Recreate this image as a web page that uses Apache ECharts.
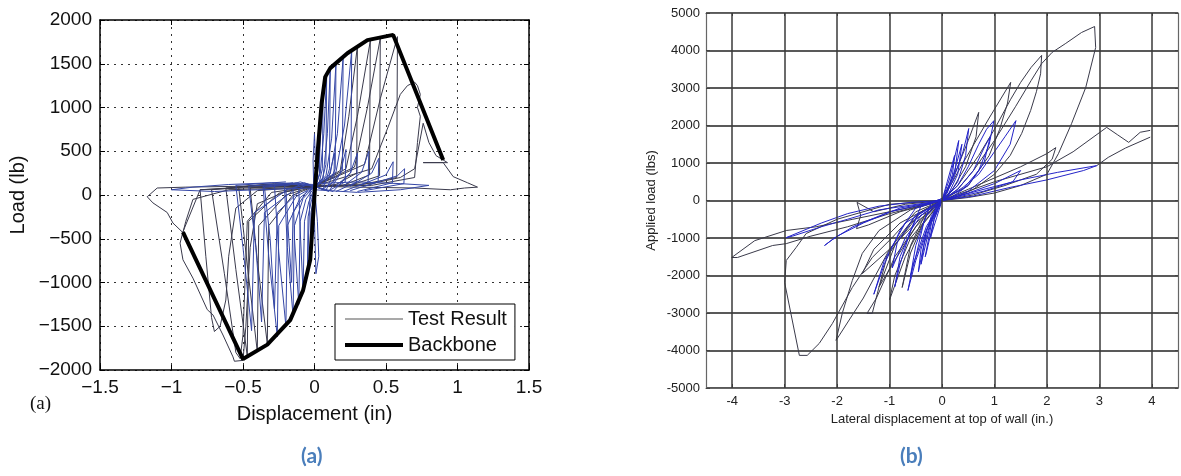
<!DOCTYPE html>
<html><head><meta charset="utf-8">
<script src="https://cdn.jsdelivr.net/npm/echarts@6/dist/echarts.min.js"></script>
<style>html,body{margin:0;padding:0;background:#fff}#c{width:1181px;height:476px}</style>
</head><body><div id="c"></div>
<script>
// ---------- Panel (a) ----------
const aXTicks = [-1.5, -1, -0.5, 0, 0.5, 1, 1.5];
const aYTicks = [-2000, -1500, -1000, -500, 0, 500, 1000, 1500, 2000];
const aBackbone = [[-0.92,-425],[-0.5,-1875],[-0.33,-1710],[-0.17,-1430],[-0.08,-1090],[-0.03,-740],[-0.01,-250],[0,0],[0.025,550],[0.05,1050],[0.075,1350],[0.11,1450],[0.23,1620],[0.37,1770],[0.55,1830],[0.9,400]];
const aLoopsBlue = [
 [[0,0],[0.01,250],[0.02,450],[0.015,150],[0,60],[-0.01,-200],[-0.02,-500],[-0.015,-150],[0,0]],
 [[0,0],[0.02,300],[0.04,850],[0.035,250],[0.01,100],[-0.01,0],[-0.02,-350],[-0.03,-800],[-0.025,-200],[0,0]],
 [[0,50],[0.03,350],[0.06,1150],[0.055,300],[0.03,120],[0,80],[-0.03,60],[-0.04,-400],[-0.05,-950],[-0.045,-250],[-0.02,-50],[0,50]],
 [[0,80],[0.04,250],[0.065,700],[0.085,1350],[0.08,350],[0.05,150],[0,90],[-0.05,120],[-0.11,70],[-0.1,-400],[-0.08,-1100],[-0.07,-300],[-0.04,-80],[0,80]],
 [[0,90],[0.06,200],[0.09,700],[0.11,1430],[0.105,300],[0.06,60],[0,100],[-0.07,140],[-0.15,80],[-0.14,-500],[-0.11,-1250],[-0.1,-300],[-0.06,-50],[0,90]],
 [[0,100],[0.08,220],[0.12,650],[0.15,1500],[0.145,300],[0.08,50],[0,100],[-0.1,150],[-0.21,100],[-0.19,-600],[-0.15,-1380],[-0.14,-350],[-0.08,-40],[0,100]],
 [[0,100],[0.11,240],[0.16,700],[0.2,1570],[0.195,280],[0.1,40],[0,100],[-0.13,140],[-0.28,110],[-0.25,-650],[-0.2,-1500],[-0.19,-350],[-0.1,-30],[0,100]],
 [[0,100],[0.15,260],[0.21,800],[0.26,1650],[0.255,260],[0.13,40],[0,100],[-0.17,130],[-0.36,100],[-0.32,-700],[-0.26,-1620],[-0.25,-350],[-0.13,-20],[0,100]],
 [[0.05,100],[0.1,200],[0.14,480],[0.135,150],[0.05,60]],
 [[0.1,100],[0.18,250],[0.22,520],[0.215,150],[0.1,50]],
 [[0.15,100],[0.25,250],[0.3,480],[0.295,150],[0.15,40]],
 [[0.2,100],[0.33,260],[0.38,500],[0.375,150],[0.2,40]],
 [[0.25,100],[0.4,250],[0.45,420],[0.445,150],[0.25,50]],
 [[0.3,100],[0.5,230],[0.55,380],[0.545,140],[0.3,40]],
 [[0.35,100],[0.58,220],[0.63,300],[0.625,130],[0.35,50]],
 [[-0.1,130],[-0.35,90],[-0.31,-500],[-0.28,-1300],[-0.26,-200],[-0.1,50]],
 [[-0.15,140],[-0.46,100],[-0.41,-600],[-0.37,-1450],[-0.35,-200],[-0.15,50]],
 [[-0.2,150],[-0.55,110],[-0.5,-600],[-0.44,-1550],[-0.42,-200],[-0.2,50]],
 [[-0.05,120],[-0.2,60],[-0.18,-500],[-0.16,-1000],[-0.15,-200],[-0.05,50]],
 [[0,100],[0.02,-300],[0.03,-700],[0.01,-900],[0,-300],[-0.01,400],[0,700],[0.01,200],[0,100]],
 [[0,120],[-0.3,140],[-0.6,120],[-0.85,90],[-1.0,60],[-0.7,40],[-0.4,60],[0,80]],
 [[0,130],[0.3,150],[0.6,130],[0.8,110],[0.6,60],[0.3,30],[0,60]]
];
const aLoopsDark = [
 [[0,100],[0.18,280],[0.24,900],[0.3,1700],[0.295,250],[0.15,120],[0,100],[-0.22,120],[-0.45,80],[-0.4,-750],[-0.33,-1700],[-0.32,-350],[-0.15,0],[0,100]],
 [[0,100],[0.22,300],[0.3,900],[0.39,1760],[0.385,230],[0.2,110],[0,100],[-0.28,130],[-0.53,90],[-0.47,-800],[-0.4,-1790],[-0.39,-350],[-0.2,0],[0,100]],
 [[0,100],[0.28,320],[0.37,1000],[0.46,1790],[0.455,220],[0.25,110],[0,100],[-0.35,120],[-0.62,80],[-0.55,-850],[-0.47,-1840],[-0.46,-300],[-0.25,20],[0,100]],
 [[0,100],[0.35,350],[0.46,1100],[0.58,1810],[0.575,200],[0.3,110],[0,100],[-0.4,110],[-0.72,60],[-0.63,-900],[-0.55,-1800],[-0.52,-1870],[-0.5,-1600],[-0.47,-300],[-0.3,30],[0,100]],
 [[0,100],[0.4,300],[0.52,800],[0.6,1150],[0.65,1250],[0.7,1290],[0.72,1250],[0.74,1150],[0.72,1000],[0.74,900],[0.72,600],[0.7,200],[0.4,110],[0,100],[-0.5,80],[-0.8,60],[-0.76,-700],[-0.72,-1400],[-0.7,-1560],[-0.66,-1500],[-0.62,-1200],[-0.6,-700],[-0.55,-150],[-0.4,50],[0,100]],
 [[0,100],[-0.5,90],[-0.8,60],[-0.92,-420],[-0.94,-550],[-0.92,-740],[-0.85,-950],[-0.75,-1310],[-0.71,-1370],[-0.64,-1600],[-0.57,-1850],[-0.56,-1900],[-0.5,-1890],[-0.48,-1500],[-0.45,-600],[-0.4,-100],[-0.2,40],[0,100]],
 [[0,100],[-0.5,100],[-0.9,90],[-1.1,80],[-1.17,-20],[-1.13,-90],[-1.03,-200],[-0.99,-320],[-0.92,-430],[-0.9,-300],[-0.85,-50],[-0.6,60],[0,90]],
 [[0,100],[0.4,130],[0.6,200],[0.7,300],[0.76,820],[0.8,600],[0.85,450],[0.93,370],[0.76,370],[0.9,370],[0.97,210],[1.07,140],[1.14,90],[1.05,80],[0.95,60],[0.7,80],[0.3,90],[0,100]]
];

// ---------- Panel (b) ----------
const bXTicks = [-4, -3, -2, -1, 0, 1, 2, 3, 4];
const bYTicks = [-5000, -4000, -3000, -2000, -1000, 0, 1000, 2000, 3000, 4000, 5000];
const bLoopsBlue = [
 [[0,0],[0.1,500],[0.2,1000],[0.24,1200],[0.2,700],[0.1,250],[0,0],[-0.1,-450],[-0.2,-900],[-0.22,-1000],[-0.15,-500],[-0.05,-100],[0,0]],
 [[0,0],[0.15,600],[0.3,1500],[0.32,1600],[0.25,800],[0.1,200],[0,0],[-0.15,-500],[-0.3,-1400],[-0.32,-1500],[-0.2,-600],[-0.05,-100],[0,0]],
 [[0,0],[0.2,600],[0.38,1500],[0.4,1550],[0.3,700],[0.1,100],[-0.1,-100],[-0.25,-800],[-0.4,-1700],[-0.42,-1750],[-0.3,-800],[-0.1,-150],[0,0]],
 [[0,0],[0.2,500],[0.4,1300],[0.51,1920],[0.45,1200],[0.3,500],[0.1,100],[-0.2,-50],[-0.35,-600],[-0.5,-1500],[-0.6,-2000],[-0.5,-1200],[-0.3,-400],[0,0]],
 [[0,0],[0.3,400],[0.5,900],[0.7,1500],[0.85,1900],[0.99,2130],[0.9,1500],[0.7,800],[0.4,300],[0,50],[-0.4,-150],[-0.6,-800],[-0.8,-1700],[-0.9,-2300],[-0.8,-1500],[-0.5,-500],[0,0]],
 [[0,0],[0.4,350],[0.7,700],[0.9,1100],[1.2,1700],[1.41,2130],[1.3,1500],[1.0,800],[0.5,250],[0,0],[-0.5,-200],[-0.8,-800],[-1.1,-1700],[-1.3,-2500],[-1.1,-1600],[-0.7,-600],[0,0]],
 [[0,0],[-0.6,-50],[-1.2,-150],[-1.8,-350],[-2.3,-600],[-2.97,-990],[-2.85,-950],[-2.3,-700],[-1.8,-500],[-1.2,-250],[0,0]],
 [[0,0],[-0.8,-200],[-1.5,-600],[-2.0,-950],[-2.24,-1200],[-2.1,-1050],[-1.7,-700],[-1.0,-300],[0,0]],
 [[0,0],[0.8,300],[1.5,550],[2.2,750],[2.95,930],[2.7,800],[2.0,550],[1.3,350],[0.6,120],[0,0]],
 [[0,0],[-0.3,-800],[-0.5,-1600],[-0.65,-2400],[-0.55,-1700],[-0.3,-700],[0,0]],
 [[0,0],[-0.2,-500],[-0.35,-1200],[-0.45,-1900],[-0.4,-1300],[-0.2,-400],[0,0]],
 [[0,0],[0.3,300],[0.6,800],[0.8,1400],[0.92,1700],[0.8,1000],[0.5,400],[0.2,100],[0,0]],
 [[0,0],[-0.4,-400],[-0.7,-1000],[-0.95,-1800],[-0.85,-1100],[-0.5,-400],[0,0]],
 [[0,0],[0.5,200],[1.0,450],[1.5,800],[1.35,500],[0.8,250],[0,0]]
];
const bLoopsDark = [
 [[0,0],[0.3,900],[0.5,1600],[0.7,2350],[0.65,1700],[0.45,900],[0.2,300],[0,0],[-0.3,-300],[-0.6,-1200],[-0.76,-2320],[-0.6,-1400],[-0.3,-400],[0,0]],
 [[0,0],[0.4,1000],[0.9,2200],[1.31,3150],[1.25,2600],[1.1,1900],[0.9,1200],[0.5,400],[0,0],[-0.4,-500],[-0.9,-1500],[-1.25,-2600],[-1.43,-3010],[-1.33,-3010],[-1.2,-2300],[-0.9,-1200],[-0.4,-300],[0,0]],
 [[0,0],[0.3,400],[0.7,1200],[1.0,1900],[1.31,2700],[1.5,3150],[1.7,3550],[1.9,3870],[1.88,3380],[1.8,2900],[1.69,2400],[1.52,1790],[1.3,1200],[1.0,700],[0.6,300],[0.2,50],[0,0],[-0.5,-400],[-1.0,-1300],[-1.5,-2600],[-2.02,-3730],[-1.9,-3000],[-1.71,-2130],[-1.52,-1410],[-1.2,-800],[-0.6,-250],[0,0]],
 [[0,0],[0.3,300],[0.6,800],[1.0,1600],[1.4,2500],[1.7,3200],[1.9,3650],[2.1,3950],[2.36,4190],[2.66,4480],[2.91,4640],[2.93,4080],[2.74,3010],[2.47,2050],[2.22,1250],[2.0,700],[1.5,400],[1.0,200],[0.5,80],[0,0],[-0.5,-300],[-0.95,-990],[-1.33,-1520],[-1.71,-2320],[-2.09,-3280],[-2.34,-3810],[-2.57,-4130],[-2.72,-4130],[-3.0,-2190],[-2.97,-1600],[-2.78,-1250],[-2.59,-880],[-2.0,-500],[-1.0,-100],[0,0]],
 [[0,0],[0.5,300],[1.0,600],[1.5,900],[2.0,1250],[2.17,1410],[2.1,1100],[1.8,700],[1.2,400],[0.6,150],[0,0]],
 [[0,0],[1.0,500],[2.0,900],[2.5,1300],[3.14,1950],[3.35,1750],[3.56,1550],[3.78,1820],[3.97,1870]],
 [[2.95,930],[3.17,1150],[3.5,1400],[3.97,1690]],
 [[0,0],[-0.5,-150],[-1.0,-300],[-1.7,-500],[-2.4,-700],[-2.97,-800],[-3.57,-1070],[-4.01,-1520],[-3.9,-1520],[-3.23,-1200],[-2.97,-1150],[-2.5,-950],[-1.8,-700],[-1.0,-350],[0,0]],
 [[0,0],[-0.7,-100],[-1.3,-300],[-1.62,-50],[-1.55,-400],[-1.63,-750],[-1.4,-650],[-0.8,-300],[0,0]],
 [[0,0],[-0.4,-700],[-0.7,-1500],[-1.0,-2650],[-0.9,-2000],[-0.6,-1000],[0,0]],
 [[0,0],[-0.5,-600],[-1.0,-1300],[-1.52,-1950],[-1.3,-1300],[-0.8,-600],[0,0]],
 [[0,0],[-0.5,-700],[-0.9,-1600],[-1.2,-2300],[-1.05,-1500],[-0.6,-600],[0,0]]
];

const minus = v => String(v).replace('-', '\u2212');
const plain = v => String(v);
const SANS = 'Liberation Sans, Arial, sans-serif';

function loopSeries(loops, color, xi, yi, name) {
  return loops.map(l => ({
    type: 'line', name: name, data: l, xAxisIndex: xi, yAxisIndex: yi,
    symbol: 'none', showSymbol: false, silent: true, z: 3,
    lineStyle: { color: color, width: 1 }, itemStyle: { color: color }
  }));
}

const series = [];
series.push(...loopSeries(aLoopsDark, '#3a3a4c', 0, 0, 'Test Result'));
series.push(...loopSeries(aLoopsBlue, '#3446a6', 0, 0, 'Test Result'));
series.push({
  type: 'line', name: 'Backbone', data: aBackbone, xAxisIndex: 0, yAxisIndex: 0,
  symbol: 'none', silent: true, z: 5, lineStyle: { color: '#000', width: 4 }, itemStyle: { color: '#000' }
});
series.push({
  type: 'line', name: 'bgrid', data: [], xAxisIndex: 2, yAxisIndex: 2, silent: true, z: 1,
  markLine: { silent: true, symbol: ['none', 'none'], label: { show: false },
    lineStyle: { color: '#3a3a3a', width: 1.5, type: 'solid' },
    data: bXTicks.map(v => ({ xAxis: v })) }
});
series.push(...loopSeries(bLoopsDark, '#3a3a4a', 2, 2, 'b'));
series.push(...loopSeries(bLoopsBlue, '#2424c8', 2, 2, 'b'));

const thinIcon = 'path://M0,0L0.01,0L0.01,0.01L0,0.01Z M0,6.5L58,6.5L58,7.5L0,7.5Z M0,14L0.01,14L0.01,13.99L0,13.99Z';
const thickIcon = 'path://M0,0L0.01,0L0.01,0.01L0,0.01Z M0,5L58,5L58,9L0,9Z M0,14L0.01,14L0.01,13.99L0,13.99Z';

const option = {
  animation: false,
  backgroundColor: '#fff',
  grid: [
    { left: 100, top: 20, width: 429, height: 350 },
    { left: 706, top: 13, width: 472, height: 375 }
  ],
  legend: {
    data: [{ name: 'Test Result', icon: thinIcon, itemStyle: { color: '#555' } }, { name: 'Backbone', icon: thickIcon, itemStyle: { color: '#000' } }],
    orient: 'vertical', left: 335, top: 304,
    backgroundColor: '#fff', borderColor: '#000', borderWidth: 1,
    padding: [5, 8, 5, 10], itemGap: 6, itemWidth: 58, itemHeight: 14,
    textStyle: { fontSize: 20, color: '#111', fontFamily: SANS },
    selectedMode: false
  },
  xAxis: [
    { gridIndex: 0, type: 'value', min: -1.5, max: 1.5, interval: 0.5, position: 'bottom',
      axisLine: { show: true, onZero: false, lineStyle: { color: '#000', width: 1.5 } },
      axisTick: { inside: true, length: 5, lineStyle: { color: '#000' } },
      axisLabel: { fontSize: 19, color: '#111', margin: 8, fontFamily: SANS, formatter: minus },
      splitLine: { show: true, lineStyle: { type: [2, 5], color: '#333', width: 1 } },
      name: 'Displacement (in)', nameLocation: 'middle', nameGap: 34,
      nameTextStyle: { fontSize: 20, color: '#111', fontFamily: SANS } },
    { gridIndex: 0, type: 'value', min: -1.5, max: 1.5, interval: 0.5, position: 'top',
      axisLine: { show: true, onZero: false, lineStyle: { color: '#000', width: 1.5 } },
      axisTick: { inside: true, length: 5, lineStyle: { color: '#000' } },
      axisLabel: { show: false }, splitLine: { show: false } },
    { gridIndex: 1, type: 'value', min: -4.5, max: 4.5, position: 'bottom',
      axisLine: { show: true, onZero: false, lineStyle: { color: '#666', width: 1.2 } },
      axisTick: { inside: true, length: 4, customValues: bXTicks, lineStyle: { color: '#444' } },
      axisLabel: { fontSize: 13, color: '#222', margin: 7, fontFamily: SANS, customValues: bXTicks, formatter: plain },
      splitLine: { show: false },
      name: 'Lateral displacement at top of wall (in.)', nameLocation: 'middle', nameGap: 24,
      nameTextStyle: { fontSize: 13, color: '#222', fontFamily: SANS } },
    { gridIndex: 1, type: 'value', min: -4.5, max: 4.5, position: 'top',
      axisLine: { show: true, onZero: false, lineStyle: { color: '#666', width: 1.2 } },
      axisTick: { inside: true, length: 3, customValues: bXTicks, lineStyle: { color: '#444' } },
      axisLabel: { show: false }, splitLine: { show: false } }
  ],
  yAxis: [
    { gridIndex: 0, type: 'value', min: -2000, max: 2000, interval: 500, position: 'left',
      axisLine: { show: true, onZero: false, lineStyle: { color: '#000', width: 1.5 } },
      axisTick: { inside: true, length: 5, lineStyle: { color: '#000' } },
      axisLabel: { fontSize: 19, color: '#111', margin: 8, fontFamily: SANS, formatter: minus },
      splitLine: { show: true, lineStyle: { type: [2, 5], color: '#333', width: 1 } },
      name: 'Load (lb)', nameLocation: 'middle', nameGap: 72,
      nameTextStyle: { fontSize: 20, color: '#111', fontFamily: SANS } },
    { gridIndex: 0, type: 'value', min: -2000, max: 2000, interval: 500, position: 'right',
      axisLine: { show: true, onZero: false, lineStyle: { color: '#000', width: 1.5 } },
      axisTick: { inside: true, length: 5, lineStyle: { color: '#000' } },
      axisLabel: { show: false }, splitLine: { show: false } },
    { gridIndex: 1, type: 'value', min: -5000, max: 5000, interval: 1000, position: 'left',
      axisLine: { show: true, onZero: false, lineStyle: { color: '#666', width: 1.2 } },
      axisTick: { inside: true, length: 4, lineStyle: { color: '#444' } },
      axisLabel: { fontSize: 13, color: '#222', margin: 6, fontFamily: SANS, formatter: plain },
      splitLine: { show: true, lineStyle: { color: '#222', width: 1.5, type: 'solid' } },
      name: 'Applied load (lbs)', nameLocation: 'middle', nameGap: 48,
      nameTextStyle: { fontSize: 13, color: '#222', fontFamily: SANS } },
    { gridIndex: 1, type: 'value', min: -5000, max: 5000, interval: 1000, position: 'right',
      axisLine: { show: true, onZero: false, lineStyle: { color: '#666', width: 1.2 } },
      axisTick: { inside: true, length: 3, lineStyle: { color: '#444' } },
      axisLabel: { show: false }, splitLine: { show: false } }
  ],
  graphic: [
    { type: 'text', left: 30, top: 395, style: { text: '(a)', font: '19px "Liberation Serif", serif', fill: '#111' } },
    { type: 'text', left: 301, top: 446, style: { text: '(a)', font: 'bold 21px Lato, "Open Sans", sans-serif', fill: '#4a7ebb' } },
    { type: 'text', left: 900, top: 446, style: { text: '(b)', font: 'bold 21px Lato, "Open Sans", sans-serif', fill: '#4a7ebb' } }
  ],
  series: series
};
const chart = echarts.init(document.getElementById('c'), null, { renderer: 'canvas' });
chart.setOption(option);
</script></body></html>
